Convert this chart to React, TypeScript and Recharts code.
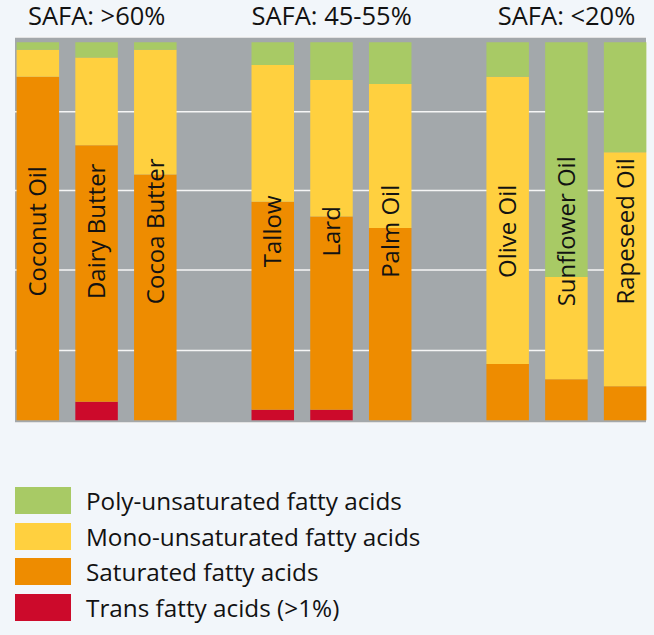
import {
  Bar,
  BarChart,
  CartesianGrid,
  Legend,
  ReferenceDot,
  XAxis,
  YAxis,
} from "recharts";

// 11 slots: 9 fats plus two empty spacers between the SAFA groups
const FATS = [
  "Coconut Oil",
  "Dairy Butter",
  "Cocoa Butter",
  "gap-1",
  "Tallow",
  "Lard",
  "Palm Oil",
  "gap-2",
  "Olive Oil",
  "Sunflower Oil",
  "Rapeseed Oil",
];
const TRANS = [0, 4.9, 0, null, 2.8, 2.8, 0, null, 0, 0, 0];
const SATURATED = [90.9, 67.9, 65.0, null, 55.0, 51.1, 50.9, null, 14.9, 10.9, 9.0];
const MONO = [7.1, 23.2, 33.0, null, 36.2, 36.1, 38.1, null, 76.0, 27.0, 61.9];
const POLY = [2.0, 4.0, 2.0, null, 6.0, 10.0, 11.0, null, 9.1, 62.1, 29.1];

const GROUP_HEADERS: Record<string, string> = {
  "Dairy Butter": "SAFA: >60%",
  Lard: "SAFA: 45-55%",
  "Sunflower Oil": "SAFA: <20%",
};
const GRID_TICKS = [18.5, 39.8, 60.8, 81.6];

const SERIES = [
  { key: "trans", name: "Trans fatty acids (>1%)", color: "#cc0a2b" },
  { key: "saturated", name: "Saturated fatty acids", color: "#ee8c00" },
  { key: "mono", name: "Mono-unsaturated fatty acids", color: "#ffd03f" },
  { key: "poly", name: "Poly-unsaturated fatty acids", color: "#a8ca65" },
];

const data = FATS.map((name, i) => ({
  name,
  trans: TRANS[i],
  saturated: SATURATED[i],
  mono: MONO[i],
  poly: POLY[i],
}));

const FONT = "'Open Sans', 'Noto Sans', sans-serif";
const INK = "#121212";

function FatLegend() {
  return (
    <div style={{ display: "flex", flexDirection: "column", gap: 8.5 }}>
      {[...SERIES].reverse().map((s) => (
        <div key={s.key} style={{ display: "flex", alignItems: "center", height: 27 }}>
          <span style={{ width: 56, height: 27, background: s.color, marginRight: 15 }} />
          <span style={{ fontSize: 24.3, color: INK, lineHeight: "27px" }}>{s.name}</span>
        </div>
      ))}
    </div>
  );
}

export default function App() {
  const axisPad = { left: -6.4, right: -8.6 };
  return (
    <div
      style={{
        position: "absolute",
        left: 0,
        top: 0,
        width: 654,
        height: 635,
        background: "#f2f6fa",
        fontFamily: FONT,
        overflow: "hidden",
      }}
    >
      <BarChart
        width={654}
        height={635}
        data={data}
        margin={{ top: 7, right: 8, bottom: 212, left: 15 }}
        barSize={42.5}
      >
        <CartesianGrid vertical={false} fill="#a3a8ab" stroke="#f6f6f6" strokeWidth={1.5} />
        <XAxis dataKey="name" hide padding={axisPad} />
        <XAxis
          xAxisId="top"
          orientation="top"
          dataKey="name"
          height={30}
          interval={0}
          padding={axisPad}
          axisLine={false}
          tickLine={false}
          tickSize={0}
          tickMargin={12}
          tick={{ fontSize: 25.5, fill: INK }}
          tickFormatter={(v: string) => GROUP_HEADERS[v] ?? ""}
        />
        <YAxis hide type="number" domain={[-0.7, 101.4]} ticks={GRID_TICKS} />
        {SERIES.map((s) => (
          <Bar
            key={s.key}
            dataKey={s.key}
            name={s.name}
            stackId="fat"
            fill={s.color}
            isAnimationActive={false}
          />
        ))}
        {FATS.filter((f) => !f.startsWith("gap")).map((f) => (
          <ReferenceDot
            key={f}
            x={f}
            y={50}
            r={0}
            fill="none"
            stroke="none"
            label={{ value: f, position: "center", angle: -90, fontSize: 24, fill: INK }}
          />
        ))}
        <Legend
          layout="vertical"
          align="center"
          verticalAlign="middle"
          wrapperStyle={{ left: 15, top: 487, width: 500 }}
          content={() => <FatLegend />}
        />
      </BarChart>
    </div>
  );
}
